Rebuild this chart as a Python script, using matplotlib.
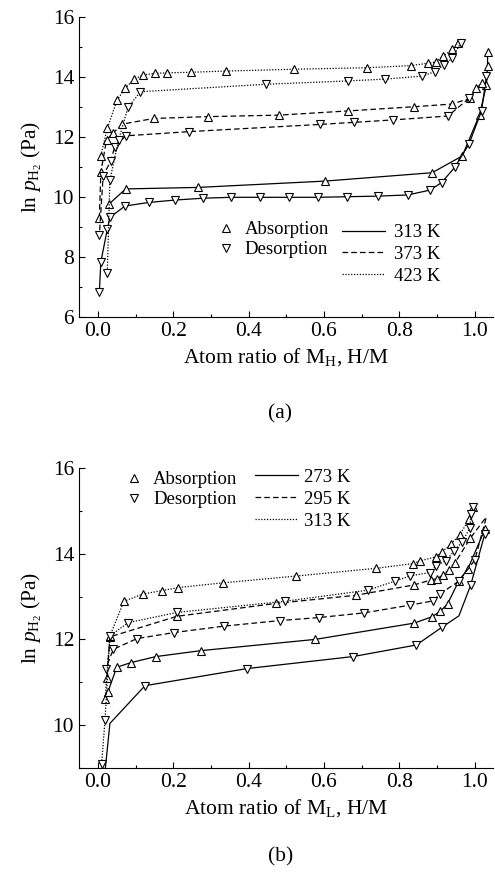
import matplotlib
matplotlib.use("Agg")
import matplotlib.pyplot as plt
from matplotlib.lines import Line2D

plt.rcParams['font.family'] = ['Liberation Serif', 'DejaVu Serif']
plt.rcParams['mathtext.fontset'] = 'custom'
plt.rcParams['mathtext.rm'] = 'Liberation Serif'
plt.rcParams['mathtext.it'] = 'Liberation Serif:italic'

# === panel (a): M_H ===
a313_abs_x = [0.030, 0.074, 0.266, 0.602, 0.887, 0.967, 1.013, 1.031, 1.034, 1.034]
a313_abs_y = [9.77, 10.27, 10.32, 10.53, 10.81, 11.37, 12.75, 13.73, 14.36, 14.85]
a313_des_x = [1.031, 1.018, 0.985, 0.947, 0.912, 0.881, 0.823, 0.744, 0.662, 0.584,
              0.506, 0.430, 0.353, 0.279, 0.206, 0.136, 0.072, 0.032, 0.025, 0.008, 0.004]
a313_des_y = [14.03, 12.87, 11.77, 10.99, 10.48, 10.23, 10.07, 10.03, 10.01, 9.99,
              9.99, 9.99, 9.99, 9.96, 9.90, 9.82, 9.70, 9.32, 8.92, 7.84, 6.84]

a373_abs_x = [0.004, 0.008, 0.023, 0.041, 0.065, 0.149, 0.292, 0.481, 0.664, 0.839,
              0.940, 0.987, 1.004, 1.019]
a373_abs_y = [9.29, 10.84, 11.90, 12.14, 12.43, 12.62, 12.68, 12.73, 12.87, 13.01,
              13.10, 13.29, 13.62, 13.80]
a373_des_x = [0.985, 0.929, 0.783, 0.680, 0.589, 0.242, 0.074, 0.045, 0.034, 0.014, 0.004]
a373_des_y = [13.29, 12.70, 12.57, 12.49, 12.42, 12.18, 12.04, 11.68, 11.20, 10.70, 8.73]

a423_abs_x = [0.008, 0.025, 0.051, 0.072, 0.096, 0.120, 0.151, 0.184, 0.247, 0.341,
              0.521, 0.713, 0.830, 0.876, 0.896, 0.916, 0.941, 0.956]
a423_abs_y = [11.38, 12.29, 13.23, 13.62, 13.93, 14.07, 14.12, 14.14, 14.16, 14.20,
              14.26, 14.31, 14.38, 14.46, 14.50, 14.70, 14.92, 15.12]
a423_des_x = [0.963, 0.941, 0.919, 0.894, 0.861, 0.761, 0.664, 0.447, 0.113, 0.080,
              0.055, 0.032, 0.025]
a423_des_y = [15.14, 14.64, 14.40, 14.18, 14.03, 13.93, 13.87, 13.76, 13.51, 12.99,
              11.90, 10.57, 7.46]

# === panel (b): M_L ===
b273_abs_x = [0.027, 0.050, 0.088, 0.154, 0.275, 0.576, 0.839, 0.887, 0.909, 0.928,
              0.958, 0.982, 1.027]
b273_abs_y = [10.78, 11.35, 11.46, 11.60, 11.74, 12.00, 12.38, 12.53, 12.66, 12.83,
              13.37, 13.65, 14.57]
b273_des_x = [1.027, 0.989, 0.958, 0.914, 0.845, 0.677, 0.396, 0.125, 0.032, 0.020]
b273_des_y = [14.47, 13.26, 12.55, 12.29, 11.87, 11.60, 11.32, 10.92, 10.04, 9.00]

b295_abs_x = [0.024, 0.032, 0.210, 0.472, 0.684, 0.838, 0.885, 0.900, 0.916, 0.931,
              0.948, 0.988, 1.030]
b295_abs_y = [11.10, 12.06, 12.54, 12.84, 13.03, 13.27, 13.39, 13.42, 13.50, 13.62,
              13.79, 14.36, 14.85]
b295_des_x = [1.030, 1.000, 0.958, 0.907, 0.890, 0.828, 0.707, 0.586, 0.483, 0.334,
              0.202, 0.104, 0.041, 0.021]
b295_des_y = [14.83, 13.85, 13.36, 13.06, 12.90, 12.80, 12.62, 12.51, 12.44, 12.31,
              12.16, 12.02, 11.77, 11.32]

b313_abs_x = [0.019, 0.032, 0.069, 0.120, 0.171, 0.213, 0.331, 0.527, 0.739, 0.836,
              0.854, 0.898, 0.914, 0.936, 0.960, 0.985, 0.996]
b313_abs_y = [10.60, 12.08, 12.89, 13.06, 13.14, 13.21, 13.32, 13.48, 13.66, 13.77,
              13.83, 13.93, 14.05, 14.22, 14.44, 14.80, 15.08]
b313_des_x = [0.996, 0.990, 0.987, 0.967, 0.945, 0.924, 0.898, 0.880, 0.828, 0.788,
              0.717, 0.496, 0.210, 0.080, 0.032, 0.019, 0.010]
b313_des_y = [15.08, 14.93, 14.60, 14.28, 14.06, 13.84, 13.72, 13.56, 13.48, 13.36,
              13.15, 12.89, 12.63, 12.39, 12.08, 10.12, 9.09]

temps_a = ["313 K", "373 K", "423 K"]
temps_b = ["273 K", "295 K", "313 K"]

SOLID = '-'
DASHED = (0, (4.5, 2.5))
DOTTED = (0, (1, 1.3))
MS = 6
FS = 15.5
LFS = 13.5


def draw(ax, x, y, ls, marker, skip=()):
    idx = [i for i in range(len(x)) if i not in skip]
    ax.plot(x, y, color='black', linestyle=ls, linewidth=0.9, marker=marker,
            markevery=idx, markersize=MS, markerfacecolor='white',
            markeredgecolor='black', markeredgewidth=0.8)


def style_axes(ax, ylim, xlabel):
    ax.set_xlim(-0.05, 1.048)
    ax.set_ylim(*ylim)
    ax.spines['top'].set_visible(False)
    ax.spines['right'].set_visible(False)
    ax.set_xticks([0.0, 0.2, 0.4, 0.6, 0.8, 1.0])
    ax.set_xticks([0.1, 0.3, 0.5, 0.7, 0.9], minor=True)
    ax.set_yticks(range(int(ylim[0]) + (int(ylim[0]) % 2), 17, 2))
    ax.set_yticks(range(int(ylim[0]), 17), minor=True)
    ax.xaxis.set_major_formatter(matplotlib.ticker.FormatStrFormatter('%.1f'))
    ax.tick_params(which='major', direction='in', length=4.5, width=0.8, labelsize=FS)
    ax.tick_params(which='minor', direction='in', length=2.5, width=0.8)
    ax.set_xlabel(xlabel, fontsize=FS, labelpad=4)
    ax.set_ylabel(r'ln $p_{\mathrm{H}_2}$ (Pa)', fontsize=FS, labelpad=6)


def legends(ax, temps, m_anchor, l_anchor, l_pad):
    mh = [Line2D([], [], linestyle='none', marker='^', markersize=MS,
                 markerfacecolor='white', markeredgecolor='black', markeredgewidth=0.8),
          Line2D([], [], linestyle='none', marker='v', markersize=MS,
                 markerfacecolor='white', markeredgecolor='black', markeredgewidth=0.8)]
    leg1 = ax.legend(mh, ["Absorption", "Desorption"], loc='upper left',
                     bbox_to_anchor=m_anchor, frameon=False, fontsize=LFS,
                     handlelength=1.0, handletextpad=0.5, labelspacing=0.15,
                     borderpad=0, borderaxespad=0)
    ax.add_artist(leg1)
    lh = [Line2D([], [], color='black', linewidth=0.9, linestyle=s)
          for s in (SOLID, DASHED, DOTTED)]
    ax.legend(lh, temps, loc='upper left', bbox_to_anchor=l_anchor, frameon=False,
              fontsize=LFS, handlelength=2.3, handletextpad=l_pad, labelspacing=0.25,
              borderpad=0, borderaxespad=0)


fig = plt.figure(figsize=(4.95, 8.74), dpi=100)
ax1 = fig.add_axes([0.1596, 0.6373, 0.836, 0.3432])
ax2 = fig.add_axes([0.1596, 0.1213, 0.836, 0.3432])

draw(ax1, a313_abs_x, a313_abs_y, SOLID, '^')
draw(ax1, a313_des_x, a313_des_y, SOLID, 'v')
draw(ax1, a373_abs_x, a373_abs_y, DASHED, '^')
draw(ax1, a373_des_x, a373_des_y, DASHED, 'v')
draw(ax1, a423_abs_x, a423_abs_y, DOTTED, '^')
draw(ax1, a423_des_x, a423_des_y, DOTTED, 'v')
style_axes(ax1, (6, 16), r'Atom ratio of M$_{\mathrm{H}}$, H/M')
legends(ax1, temps_a, (0.333, 0.32), (0.635, 0.31), 0.5)

draw(ax2, b273_abs_x, b273_abs_y, SOLID, '^')
draw(ax2, b273_des_x, b273_des_y, SOLID, 'v', skip=(2, 8, 9))
draw(ax2, b295_abs_x, b295_abs_y, DASHED, '^', skip=(12,))
draw(ax2, b295_des_x, b295_des_y, DASHED, 'v', skip=(0,))
draw(ax2, b313_abs_x, b313_abs_y, DOTTED, '^')
draw(ax2, b313_des_x, b313_des_y, DOTTED, 'v')
style_axes(ax2, (9, 16), r'Atom ratio of M$_{\mathrm{L}}$, H/M')
legends(ax2, temps_b, (0.111, 0.99), (0.425, 0.997), 0.3)

fig.text(0.566, 0.527, "(a)", ha='center', va='center', fontsize=FS)
fig.text(0.566, 0.020, "(b)", ha='center', va='center', fontsize=FS)

fig.savefig("out.png", dpi=100)
